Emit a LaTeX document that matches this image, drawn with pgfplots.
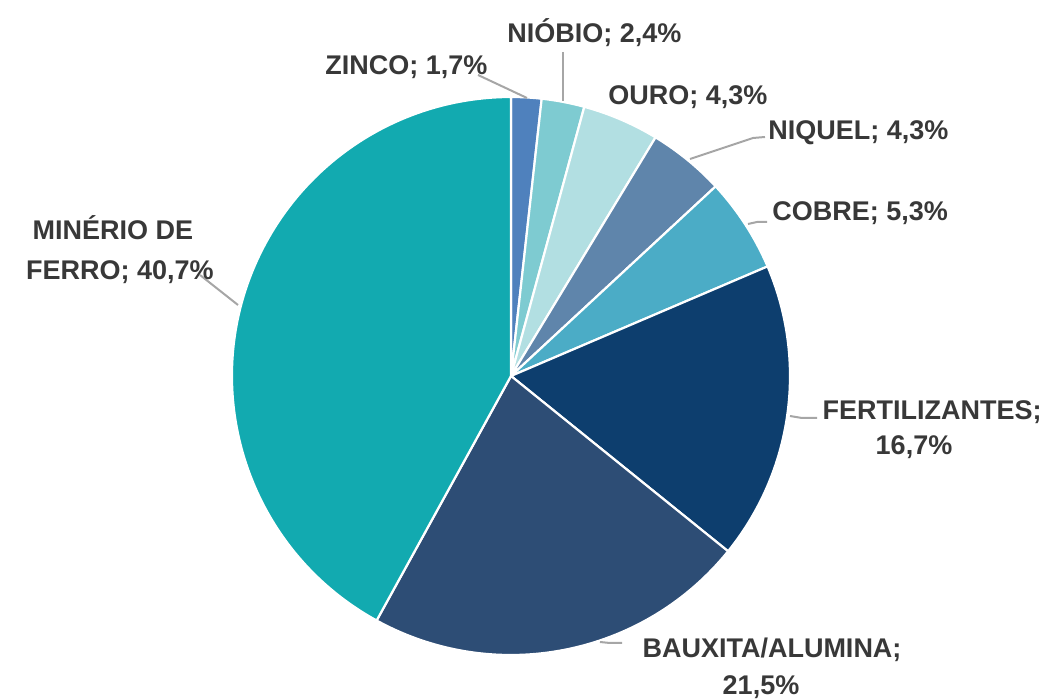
\documentclass[border=0pt]{standalone}
\usepackage{pgfplots}
\pgfplotsset{compat=1.18}
\usepackage{pgfplotstable}
\usepackage{fontspec}
\setmainfont{Liberation Sans}

\definecolor{c0}{HTML}{4F81BD}
\definecolor{c1}{HTML}{7ECBD1}
\definecolor{c2}{HTML}{B2DFE2}
\definecolor{c3}{HTML}{5F85AB}
\definecolor{c4}{HTML}{4BACC6}
\definecolor{c5}{HTML}{0D3E6E}
\definecolor{c6}{HTML}{2D4D75}
\definecolor{c7}{HTML}{12AAB0}
\definecolor{txt}{HTML}{383838}
\definecolor{lead}{HTML}{A6A6A6}

% order: clockwise from the top
\pgfplotstableread{
value
1.7
2.4
4.3
4.3
5.3
16.7
21.5
40.7
}\piedata

\def\total{0}
\pgfplotsforeachungrouped \i in {0,...,7}{%
  \pgfplotstablegetelem{\i}{value}\of\piedata
  \pgfmathsetmacro\total{\total+\pgfplotsretval}%
}
\pgfmathsetmacro\degper{360/\total}
\def\cum{0}
\pgfplotsforeachungrouped \i in {0,...,7}{%
  \pgfplotstablegetelem{\i}{value}\of\piedata
  \pgfmathsetmacro\sa{90-\degper*\cum}%
  \pgfmathsetmacro\cum{\cum+\pgfplotsretval}%
  \pgfmathsetmacro\ea{90-\degper*\cum}%
  \expandafter\xdef\csname sa\i\endcsname{\sa}%
  \expandafter\xdef\csname ea\i\endcsname{\ea}%
}

\begin{document}
\begin{tikzpicture}
\begin{axis}[width=527.5pt,height=349.5pt,scale only axis,
  xmin=0,xmax=1055,ymin=0,ymax=699,y dir=reverse,
  hide axis,clip=false]
\path (axis cs:0,0) rectangle (axis cs:1055,699);
\pgfplotsinvokeforeach{0,...,7}{
  \filldraw[fill=c#1,draw=white,line width=1.1pt,line join=round]
    (axis cs:511,376) -- ++(\csname sa#1\endcsname:139.5pt)
    arc[start angle=\csname sa#1\endcsname,end angle=\csname ea#1\endcsname,radius=139.5pt] -- cycle;
}
% leader lines
\draw[lead,line width=1pt] (axis cs:478,75) -- (axis cs:527,98);
\draw[lead,line width=1pt] (axis cs:563,52) -- (axis cs:563,101);
\draw[lead,line width=1pt] (axis cs:765,137) -- (axis cs:753,138) -- (axis cs:690,159);
\draw[lead,line width=1pt] (axis cs:767,222) -- (axis cs:757,222) -- (axis cs:748,224);
\draw[lead,line width=1pt] (axis cs:817,418) -- (axis cs:802,418) -- (axis cs:790,416);
\draw[lead,line width=1pt] (axis cs:622,643) -- (axis cs:610,643) -- (axis cs:600,642);
\draw[lead,line width=1pt] (axis cs:200,275) -- (axis cs:238,305);
% labels
\tikzset{lbl/.style={text=txt,inner sep=0pt,font=\bfseries\fontsize{13.5pt}{17pt}\selectfont}}
\node[lbl,anchor=base west] at (axis cs:325,75) {ZINCO; 1,7\%};
\node[lbl,anchor=base west] at (axis cs:507,43) {NIÓBIO; 2,4\%};
\node[lbl,anchor=base west] at (axis cs:608,105) {OURO; 4,3\%};
\node[lbl,anchor=base west] at (axis cs:768,140) {NIQUEL; 4,3\%};
\node[lbl,anchor=base west] at (axis cs:772,221) {COBRE; 5,3\%};
\node[lbl,anchor=base] at (axis cs:932,420) {FERTILIZANTES;};
\node[lbl,anchor=base] at (axis cs:914,455) {16,7\%};
\node[lbl,anchor=base] at (axis cs:772,658) {BAUXITA/ALUMINA;};
\node[lbl,anchor=base] at (axis cs:761,695) {21,5\%};
\node[lbl,anchor=base] at (axis cs:113,240) {MINÉRIO DE};
\node[lbl,anchor=base] at (axis cs:120,280) {FERRO; 40,7\%};
\end{axis}
\end{tikzpicture}
\end{document}
